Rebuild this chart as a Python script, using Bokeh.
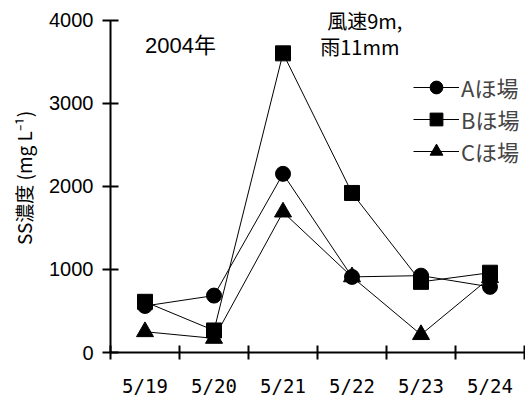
from bokeh.plotting import figure
from bokeh.models import FixedTicker, Label, Legend, LegendItem, Range1d
from bokeh.embed import file_html
from bokeh.resources import INLINE

dates = ["5/19", "5/20", "5/21", "5/22", "5/23", "5/24"]
field_a = [560, 685, 2150, 910, 925, 790]
field_b = [610, 265, 3600, 1920, 850, 960]
field_c = [250, 170, 1690, 910, 215, 900]
names = ["Aほ場", "Bほ場", "Cほ場"]
y_ticks = [0, 1000, 2000, 3000, 4000]

xs = [i + 0.5 for i in range(len(dates))]

p = figure(width=525, height=399, output_backend="svg", toolbar_location=None,
           x_range=Range1d(0, len(dates)), y_range=Range1d(0, 4200),
           min_border_left=110, min_border_right=1, min_border_top=3, min_border_bottom=46)
p.outline_line_color = None
p.xgrid.visible = False
p.ygrid.visible = False
p.background_fill_color = "white"
p.border_fill_color = "white"

cjk = "Noto Sans CJK JP"
num = "Liberation Sans"
mono = "DejaVu Sans Mono"

markers = ["circle", "square", "triangle"]
sizes = [15, 15, 17]
items = []
for name, vals, mk, sz in zip(names, [field_a, field_b, field_c], markers, sizes):
    l = p.line(xs, vals, line_color="black", line_width=1)
    s = p.scatter(xs, vals, marker=mk, size=sz, fill_color="black", line_color="black")
    items.append(LegendItem(label=name, renderers=[l, s]))

legend = Legend(items=items, location=(303, 185), padding=0, margin=0,
                border_line_color=None, background_fill_alpha=0,
                glyph_width=46, glyph_height=32, label_height=20, spacing=0,
                label_standoff=2, label_text_font=cjk, label_text_font_size="22px")
p.add_layout(legend, "center")

# x axis
xa = p.xaxis[0]
xa.ticker = FixedTicker(ticks=xs, minor_ticks=list(range(len(dates) + 1)))
xa.major_label_overrides = {x: d for x, d in zip(xs, dates)}
xa.major_tick_in = 0
xa.major_tick_out = 0
xa.minor_tick_in = 7
xa.minor_tick_out = 7
xa.minor_tick_line_color = "black"
xa.minor_tick_line_width = 2
xa.axis_line_width = 2
xa.axis_line_color = "black"
xa.major_label_text_font = mono
xa.major_label_text_font_size = "19px"
xa.major_label_text_color = "black"
xa.major_label_standoff = 15

ya = p.yaxis[0]
ya.ticker = FixedTicker(ticks=y_ticks)
ya.bounds = (0, 4000)
ya.major_tick_in = 8
ya.major_tick_out = 8
ya.minor_tick_line_color = None
ya.major_tick_line_width = 2
ya.major_tick_line_color = "black"
ya.axis_line_width = 2
ya.axis_line_color = "black"
ya.major_label_text_font = num
ya.major_label_text_font_size = "20px"
ya.major_label_text_color = "black"
ya.major_label_standoff = 9
ya.axis_label = "SS濃度 (mg L⁻¹)"
ya.axis_label_text_font = cjk
ya.axis_label_text_font_size = "19px"
ya.axis_label_text_font_style = "normal"
ya.axis_label_text_color = "black"
ya.axis_label_standoff = 9

p.add_layout(Label(x=0.5, y=3690, text="2004年", text_font="Liberation Sans, Noto Sans CJK JP",
                   text_font_size="22px", text_baseline="middle", text_color="black"))
p.add_layout(Label(x=3.14, y=4000, text="風速9m,", text_font=cjk, text_font_size="20px",
                   text_baseline="middle", text_color="black"))
p.add_layout(Label(x=3.04, y=3680, text="雨11mm", text_font=cjk, text_font_size="20px",
                   text_baseline="middle", text_color="black"))

open("out.html", "w").write(file_html(p, INLINE))
